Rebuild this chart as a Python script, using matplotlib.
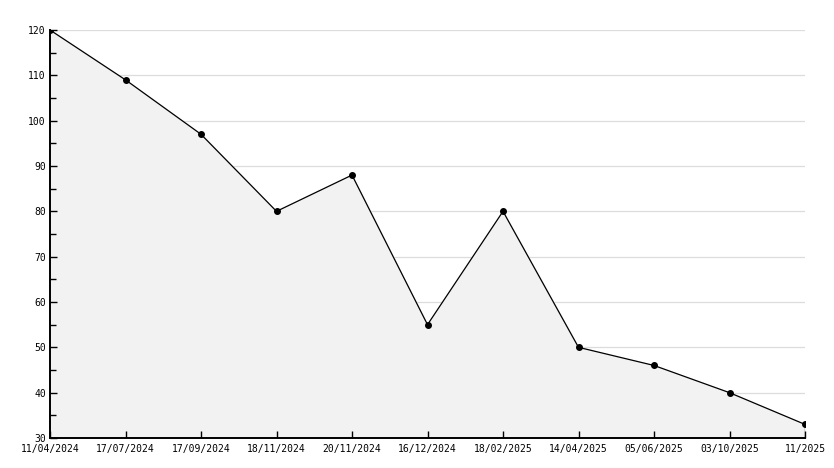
import matplotlib
matplotlib.use("Agg")
import matplotlib.pyplot as plt
from matplotlib.ticker import MultipleLocator

labels = ["11/04/2024", "17/07/2024", "17/09/2024", "18/11/2024", "20/11/2024",
          "16/12/2024", "18/02/2025", "14/04/2025", "05/06/2025", "03/10/2025", "11/2025"]
values = [120, 109, 97, 80, 88, 55, 80, 50, 46, 40, 33]

plt.rcParams['font.family'] = ['DejaVu Sans Mono']
fig = plt.figure(figsize=(8.34, 4.68), dpi=100)
ax = fig.add_axes([50/834, 1-438/468, 755/834, 408/468])

x = list(range(len(values)))
ax.fill_between(x, values, 30, color="#f2f2f2", zorder=1)
ax.plot(x, values, color="black", lw=0.9, marker="o", ms=4, mfc="black", mec="black", zorder=3)
ax.vlines(x[-1], 30, values[-1], color="black", lw=0.9, zorder=3)

ax.set_xlim(0, len(values)-1)
ax.set_ylim(30, 120)
ax.yaxis.set_major_locator(MultipleLocator(10))
ax.yaxis.set_minor_locator(MultipleLocator(5))
ax.set_xticks(x)
ax.set_xticklabels(labels)
for yv in ax.get_yticks():
    if 30 < yv <= 120:
        ax.axhline(yv, color="#dcdcdc", lw=0.9, zorder=0.5)
ax.set_axisbelow(False)

for s in ["top", "right"]:
    ax.spines[s].set_visible(False)
for s in ["left", "bottom"]:
    ax.spines[s].set_linewidth(1.4)

ax.tick_params(axis="both", which="major", direction="in", length=5, width=1, labelsize=7, colors="black", pad=3)
ax.tick_params(axis="y", which="minor", direction="in", length=4, width=1)
ax.tick_params(axis="x", pad=4)

fig.savefig("out.png", dpi=100, facecolor="white")
